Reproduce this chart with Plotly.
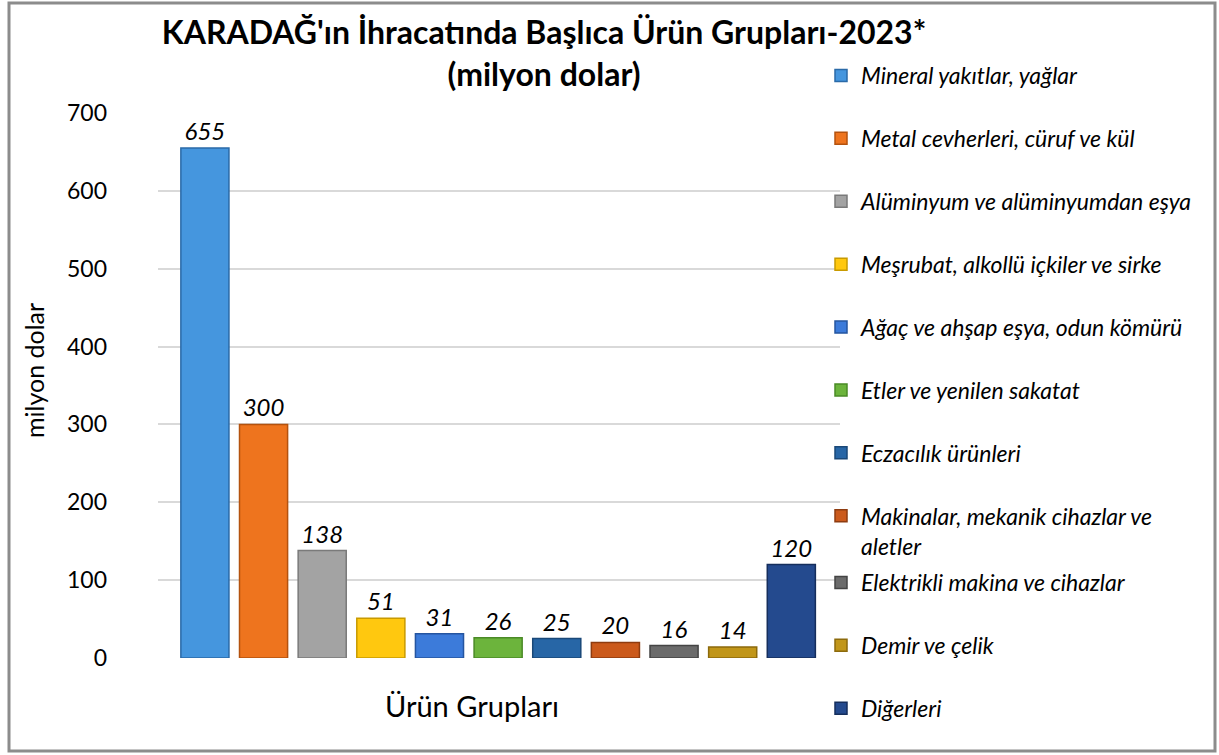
import plotly.graph_objects as go

# Product groups and export values (million USD)
groups = [
    "Mineral yakıtlar, yağlar",
    "Metal cevherleri, cüruf ve kül",
    "Alüminyum ve alüminyumdan eşya",
    "Meşrubat, alkollü içkiler ve sirke",
    "Ağaç ve ahşap eşya, odun kömürü",
    "Etler ve yenilen sakatat",
    "Eczacılık ürünleri",
    "Makinalar, mekanik cihazlar ve<br>aletler",
    "Elektrikli makina ve cihazlar",
    "Demir ve çelik",
    "Diğerleri",
]
values = [655, 300, 138, 51, 31, 26, 25, 20, 16, 14, 120]
colors = ["#4596DE", "#EE741E", "#A3A3A3", "#FFC80F", "#3C7BDA", "#6CB43C",
          "#2766A6", "#CB5A1C", "#6B6B6B", "#C1961A", "#244A8E"]
edges = ["#2A6AA8", "#B4520E", "#7A7A7A", "#C89A00", "#2555A0", "#4A8A26",
         "#1A4878", "#8E3C10", "#444444", "#8C6A0C", "#152E5C"]

fig = go.Figure()

for i, (name, val) in enumerate(zip(groups, values)):
    fig.add_trace(go.Bar(
        x=[i], y=[val], name=name, legendgroup=str(i),
        legend="legend" if i < 8 else "legend2",
        width=0.82,
        marker=dict(color=colors[i], line=dict(color=edges[i], width=1.5)),
        text=[val], textposition="outside", cliponaxis=False,
        textfont=dict(family="Lato", size=24, style="italic", color="#000000"),
    ))

# plot area runs from x=158..840 px and y=113..658 px
def px_x(p):
    return (p - 158) / 682

def px_y(p):
    return (658 - p) / 545

legend_style = dict(xanchor="left", yanchor="top", valign="top",
                    font=dict(family="Lato", size=23, style="italic"),
                    tracegroupgap=30, bgcolor="rgba(0,0,0,0)", maxheight=720)

fig.update_layout(
    width=1219, height=755,
    margin=dict(l=158, r=379, t=113, b=97, autoexpand=False),
    paper_bgcolor="white", plot_bgcolor="white",
    barmode="overlay",
    font=dict(family="Lato", color="#000000"),
    title=dict(
        text="<b>KARADAĞ'ın İhracatında Başlıca Ürün Grupları-2023*<br>(milyon dolar)</b>",
        x=544 / 1219, xanchor="center", yref="container", y=1 - 44 / 755,
        yanchor="middle",
        font=dict(family="Lato", size=32, color="#000000"),
    ),
    xaxis=dict(range=[-0.8, 10.83], showticklabels=False, showgrid=False,
               zeroline=False, showline=False),
    yaxis=dict(range=[0, 700], dtick=100, showgrid=True, gridcolor="#D9D9D9",
               gridwidth=1.5, zeroline=False, showline=False,
               ticklabelstandoff=50,
               tickfont=dict(family="Lato", size=23)),
    legend=dict(x=px_x(821), y=px_y(54), **legend_style),
    legend2=dict(x=px_x(821), y=px_y(561), **legend_style),
    annotations=[
        dict(text="Ürün Grupları", x=px_x(472), y=px_y(705),
             xref="paper", yref="paper", showarrow=False,
             xanchor="center", yanchor="middle",
             font=dict(family="Lato", size=29)),
        dict(text="milyon dolar", x=px_x(34), y=px_y(371), textangle=-90,
             xref="paper", yref="paper", showarrow=False,
             xanchor="center", yanchor="middle",
             font=dict(family="Lato", size=25)),
    ],
    shapes=[dict(type="rect", xref="paper", yref="paper",
                 x0=px_x(9), x1=px_x(1215), y0=px_y(751), y1=px_y(3),
                 line=dict(color="#8C8C8C", width=3))],
)

fig.write_html("out.html", config={"displayModeBar": False},
               post_script="document.body.style.margin='0';")
